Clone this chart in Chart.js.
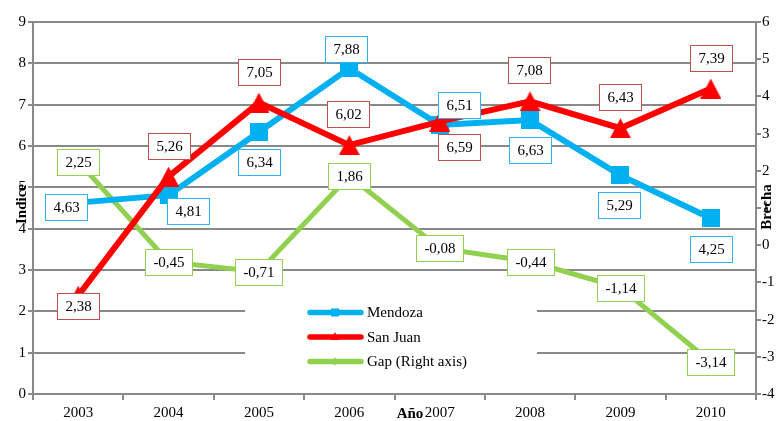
<!DOCTYPE html>
<html>
<head>
<meta charset="utf-8">
<script src="https://cdn.jsdelivr.net/npm/chart.js@4.4.1/dist/chart.umd.min.js"></script>
<style>
  html, body { margin: 0; padding: 0; background: #ffffff; }
  #wrap { width: 784px; height: 421px; }
</style>
</head>
<body>
<div id="wrap"><canvas id="c" width="784" height="421"></canvas></div>
<script>
// ---- data ----
const years = ['2003', '2004', '2005', '2006', '2007', '2008', '2009', '2010'];
const mendoza = [4.63, 4.81, 6.34, 7.88, 6.51, 6.63, 5.29, 4.25];
const sanJuan = [2.38, 5.26, 7.05, 6.02, 6.59, 7.08, 6.43, 7.39];
const gap = [2.25, -0.45, -0.71, 1.86, -0.08, -0.44, -1.14, -3.14];
const indiceTicks = [0, 1, 2, 3, 4, 5, 6, 7, 8, 9];
const brechaTicks = [-4, -3, -2, -1, 0, 1, 2, 3, 4, 5, 6];

// ---- styling ----
const FONT = '"Liberation Serif", "Times New Roman", serif';
const GRID = '#898989';
const BLUE = '#00B0F0';
const RED = '#FF0000';
const GREEN = '#92D050';

// label box offsets from each point (pixels)
const mendozaLabelPos = [[-12, 4], [19, 16], [0, 30], [-3, -19], [19, -20], [0, 30], [-1, 30], [0, 31]];
const sanJuanLabelPos = [[0, 10], [0, -31], [0, -31], [-1, -31], [19, 25], [-1, -31], [0, -31], [0, -31]];
const gapLabelPos = years.map(() => [0, 0]);

function squareMarker(size, color) {
  const c = document.createElement('canvas');
  c.width = size; c.height = size;
  const g = c.getContext('2d');
  g.fillStyle = color;
  g.fillRect(0, 0, size, size);
  return c;
}
function triangleMarker(w, h, color) {
  const c = document.createElement('canvas');
  c.width = w; c.height = h;
  const g = c.getContext('2d');
  g.fillStyle = color;
  g.beginPath();
  g.moveTo(w / 2, 0);
  g.lineTo(w, h);
  g.lineTo(0, h);
  g.closePath();
  g.fill();
  return c;
}

function fmt(v) { return v.toFixed(2).replace('.', ','); }

// boxed value labels on every point
const boxLabels = {
  id: 'boxLabels',
  afterDatasetsDraw(chart) {
    const ctx = chart.ctx;
    ctx.save();
    ctx.font = '15px ' + FONT;
    ctx.textAlign = 'center';
    ctx.textBaseline = 'middle';
    const orderDraw = [0, 1, 2];
    orderDraw.forEach(di => {
      const ds = chart.data.datasets[di];
      const meta = chart.getDatasetMeta(di);
      meta.data.forEach((pt, i) => {
        const off = ds.labelPos[i];
        const text = fmt(ds.data[i]);
        const w = Math.round(ctx.measureText(text).width + 16);
        const h = 26;
        const cx = pt.x + off[0], cy = pt.y + off[1];
        const x0 = Math.round(cx - w / 2) + 0.5;
        const y0 = Math.round(cy - h / 2) + 0.5;
        ctx.fillStyle = '#ffffff';
        ctx.fillRect(x0, y0, w, h);
        ctx.strokeStyle = ds.labelBorder;
        ctx.lineWidth = 1;
        ctx.strokeRect(x0, y0, w, h);
        ctx.fillStyle = '#000000';
        ctx.fillText(text, x0 + w / 2, y0 + h / 2 + 1);
      });
    });
    ctx.restore();
  }
};

// legend panel, axis titles
const decorations = {
  id: 'decorations',
  beforeDatasetsDraw(chart) {
    const ctx = chart.ctx;
    ctx.save();
    ctx.fillStyle = '#ffffff';
    ctx.fillRect(245, 284, 292, 100);
    ctx.restore();
  },
  afterDraw(chart) {
    const ctx = chart.ctx;
    ctx.save();
    // legend
    const entries = chart.data.datasets.map(ds => ds);
    const rows = [312.5, 337, 361.5];
    entries.forEach((ds, k) => {
      const y = rows[k];
      ctx.strokeStyle = ds.borderColor;
      ctx.lineWidth = 5.5;
      ctx.lineCap = 'round';
      ctx.beginPath();
      ctx.moveTo(310, y);
      ctx.lineTo(361, y);
      ctx.stroke();
      ctx.fillStyle = ds.borderColor;
      if (k === 0) {
        ctx.fillRect(331, y - 4, 8, 8);
      } else if (k === 1) {
        ctx.beginPath();
        ctx.moveTo(335, y - 5); ctx.lineTo(339, y + 3); ctx.lineTo(331, y + 3);
        ctx.closePath(); ctx.fill();
      } else {
        ctx.beginPath();
        ctx.moveTo(335, y - 4); ctx.lineTo(339, y); ctx.lineTo(335, y + 4); ctx.lineTo(331, y);
        ctx.closePath(); ctx.fill();
      }
      ctx.fillStyle = '#000000';
      ctx.font = '15px ' + FONT;
      ctx.textAlign = 'left';
      ctx.textBaseline = 'middle';
      ctx.fillText(ds.label, 367, y + 1);
    });
    // axis titles
    ctx.font = 'bold 15px ' + FONT;
    ctx.fillStyle = '#000000';
    ctx.textAlign = 'center';
    ctx.textBaseline = 'middle';
    ctx.fillText('Año', 410, 414);
    ctx.save();
    ctx.translate(22, 204);
    ctx.rotate(-Math.PI / 2);
    ctx.fillText('Indice', 0, 0);
    ctx.restore();
    ctx.save();
    ctx.translate(767, 207);
    ctx.rotate(-Math.PI / 2);
    ctx.fillText('Brecha', 0, 0);
    ctx.restore();
    ctx.restore();
  }
};

const tickFont = { family: FONT, size: 15 };

new Chart(document.getElementById('c'), {
  type: 'line',
  data: {
    labels: years,
    datasets: [
      {
        label: 'Mendoza',
        data: mendoza,
        yAxisID: 'y',
        borderColor: BLUE,
        backgroundColor: BLUE,
        borderWidth: 6,
        pointStyle: squareMarker(18, BLUE),
        pointRadius: 9,
        tension: 0,
        order: 1,
        labelPos: mendozaLabelPos,
        labelBorder: '#2EB4EC'
      },
      {
        label: 'San Juan',
        data: sanJuan,
        yAxisID: 'y',
        borderColor: RED,
        backgroundColor: RED,
        borderWidth: 6,
        pointStyle: triangleMarker(21, 20, RED),
        pointRadius: 10,
        tension: 0,
        order: 0,
        labelPos: sanJuanLabelPos,
        labelBorder: '#C0504D'
      },
      {
        label: 'Gap (Right axis)',
        data: gap,
        yAxisID: 'y1',
        borderColor: GREEN,
        backgroundColor: GREEN,
        borderWidth: 5,
        pointStyle: 'rectRot',
        pointRadius: 5,
        tension: 0,
        order: 2,
        labelPos: gapLabelPos,
        labelBorder: GREEN
      }
    ]
  },
  options: {
    responsive: false,
    animation: false,
    devicePixelRatio: 1,
    layout: { padding: { top: 22, left: 0, right: 0, bottom: 0 } },
    plugins: { legend: { display: false }, tooltip: { enabled: false } },
    scales: {
      x: {
        type: 'category',
        offset: true,
        grid: { offset: true, drawOnChartArea: false, drawTicks: true, tickLength: 6, color: GRID, lineWidth: 2 },
        border: { color: GRID, width: 2 },
        ticks: { font: tickFont, color: '#000000', padding: 4, maxRotation: 0, autoSkip: false },
        afterFit(s) { s.height = 27; }
      },
      y: {
        position: 'left',
        min: indiceTicks[0],
        max: indiceTicks[indiceTicks.length - 1],
        afterBuildTicks(s) { s.ticks = indiceTicks.map(v => ({ value: v })); },
        grid: { color: GRID, lineWidth: 2, tickLength: 5 },
        border: { color: GRID, width: 2 },
        ticks: { font: tickFont, color: '#000000', padding: 2 },
        afterFit(s) { s.width = 33; }
      },
      y1: {
        position: 'right',
        min: brechaTicks[0],
        max: brechaTicks[brechaTicks.length - 1],
        afterBuildTicks(s) { s.ticks = brechaTicks.map(v => ({ value: v })); },
        grid: { drawOnChartArea: false, color: GRID, lineWidth: 2, tickLength: 5 },
        border: { color: GRID, width: 2 },
        ticks: { font: tickFont, color: '#000000', padding: 1 },
        afterFit(s) { s.width = 28; }
      }
    }
  },
  plugins: [decorations, boxLabels]
});
</script>
</body>
</html>
